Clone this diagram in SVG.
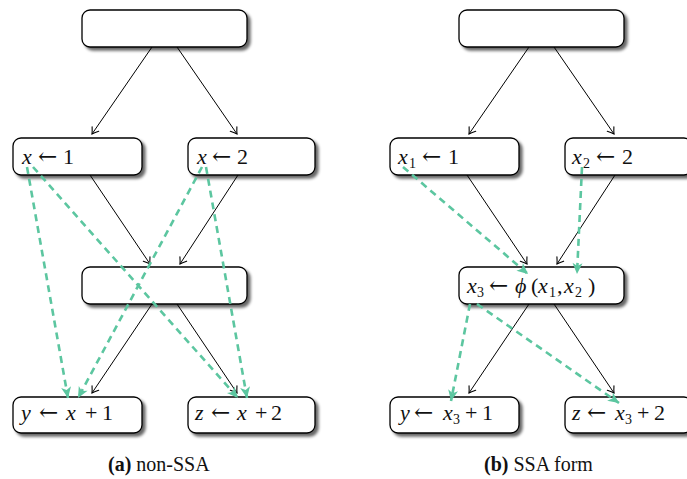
<svg xmlns="http://www.w3.org/2000/svg" width="687" height="479" viewBox="0 0 687 479">
<defs>
<filter id="sh" x="-20%" y="-30%" width="140%" height="170%">
<feGaussianBlur in="SourceAlpha" stdDeviation="1.8"/>
<feOffset dx="2.5" dy="2.5" result="b"/>
<feComponentTransfer><feFuncA type="linear" slope="0.6"/></feComponentTransfer>
<feMerge><feMergeNode/><feMergeNode in="SourceGraphic"/></feMerge>
</filter>
<marker id="ab" markerUnits="userSpaceOnUse" markerWidth="12" markerHeight="12" viewBox="-10 -6 12 12" refX="0" refY="0" orient="auto">
<path d="M-6,-4 Q-2,-1 0,0 Q-2,1 -6,4" fill="none" stroke="#000" stroke-width="1.1" stroke-linecap="round"/>
</marker>
<marker id="ag" markerUnits="userSpaceOnUse" markerWidth="14" markerHeight="14" viewBox="-12 -7 14 14" refX="0" refY="0" orient="auto">
<path d="M0,0 L-11,-5 L-8,0 L-11,5 Z" fill="#5cc6a0"/>
</marker>
</defs>
<style>
.box{fill:#fff;stroke:#000;stroke-width:1.3;filter:url(#sh)}
.c{stroke:#000;stroke-width:1;fill:none;marker-end:url(#ab)}
.g{stroke:#5cc6a0;stroke-width:2.6;fill:none;stroke-dasharray:7 5;marker-end:url(#ag)}
text{font-family:"Liberation Serif","DejaVu Serif",serif;font-size:22px;fill:#111}
.i{font-style:italic}
.ar{font-family:"DejaVu Serif",serif;font-size:23px}
.s{font-size:14px}
.cap{font-size:20px}
.bf{font-weight:bold}
</style>

<g id="a-top"><rect class="box" x="82" y="10" width="165" height="37" rx="8"/></g>
<g id="a-x1"><rect class="box" x="13" y="138" width="129" height="37" rx="8"/>
<text y="164"><tspan class="i" x="22">x</tspan><tspan class="ar" x="38">←</tspan><tspan x="63">1</tspan></text></g>
<g id="a-x2"><rect class="box" x="188" y="138" width="127" height="37" rx="8"/>
<text y="164"><tspan class="i" x="197">x</tspan><tspan class="ar" x="212">←</tspan><tspan x="237">2</tspan></text></g>
<g id="a-mid"><rect class="box" x="82" y="267" width="165" height="37" rx="8"/></g>
<g id="a-y"><rect class="box" x="13" y="397" width="129" height="36" rx="8"/>
<text y="420"><tspan class="i" x="21">y</tspan><tspan class="ar" x="39">←</tspan><tspan class="i" x="66">x</tspan><tspan x="85">+</tspan><tspan x="102">1</tspan></text></g>
<g id="a-z"><rect class="box" x="188" y="397" width="127" height="36" rx="8"/>
<text y="420"><tspan class="i" x="195">z</tspan><tspan class="ar" x="211">←</tspan><tspan class="i" x="237">x</tspan><tspan x="255">+</tspan><tspan x="271">2</tspan></text></g>

<g id="b-top"><rect class="box" x="459" y="10" width="165" height="37" rx="8"/></g>
<g id="b-x1"><rect class="box" x="390" y="138" width="129" height="37" rx="8"/>
<text y="164"><tspan class="i" x="398">x</tspan><tspan class="s" x="409" dy="4">1</tspan><tspan class="ar" x="422" dy="-4">←</tspan><tspan x="448">1</tspan></text></g>
<g id="b-x2"><rect class="box" x="565" y="138" width="127" height="37" rx="8"/>
<text y="164"><tspan class="i" x="572">x</tspan><tspan class="s" x="583" dy="4">2</tspan><tspan class="ar" x="596" dy="-4">←</tspan><tspan x="622">2</tspan></text></g>
<g id="b-mid"><rect class="box" x="459" y="267" width="165" height="37" rx="8"/>
<text y="293"><tspan class="i" x="467">x</tspan><tspan class="s" x="477" dy="4">3</tspan><tspan class="ar" x="489" dy="-4">←</tspan><tspan class="i" x="515">ϕ</tspan><tspan x="531">(</tspan><tspan class="i" x="538">x</tspan><tspan class="s" x="549" dy="4">1</tspan><tspan x="557" dy="-4">,</tspan><tspan class="i" x="564">x</tspan><tspan class="s" x="575" dy="4">2</tspan><tspan x="588" dy="-4">)</tspan></text></g>
<g id="b-y"><rect class="box" x="390" y="397" width="129" height="36" rx="8"/>
<text y="420"><tspan class="i" x="400">y</tspan><tspan class="ar" x="414">←</tspan><tspan class="i" x="443">x</tspan><tspan class="s" x="453" dy="4">3</tspan><tspan x="465" dy="-4">+</tspan><tspan x="482">1</tspan></text></g>
<g id="b-z"><rect class="box" x="565" y="397" width="127" height="36" rx="8"/>
<text y="420"><tspan class="i" x="572">z</tspan><tspan class="ar" x="587">←</tspan><tspan class="i" x="615">x</tspan><tspan class="s" x="625" dy="4">3</tspan><tspan x="637" dy="-4">+</tspan><tspan x="654">2</tspan></text></g>

<g id="connectors">
<line class="c" x1="152" y1="47" x2="92" y2="134"/>
<line class="c" x1="177" y1="47" x2="237" y2="134"/>
<line class="c" x1="90" y1="175" x2="150" y2="264"/>
<line class="c" x1="238" y1="175" x2="180" y2="264"/>
<line class="c" x1="152" y1="304" x2="92" y2="393"/>
<line class="c" x1="177" y1="304" x2="237" y2="393"/>
<line class="c" x1="529" y1="47" x2="469" y2="134"/>
<line class="c" x1="554" y1="47" x2="614" y2="134"/>
<line class="c" x1="467" y1="175" x2="527" y2="264"/>
<line class="c" x1="615" y1="175" x2="557" y2="264"/>
<line class="c" x1="529" y1="304" x2="469" y2="393"/>
<line class="c" x1="554" y1="304" x2="614" y2="393"/>
<line class="g" x1="27" y1="167" x2="68" y2="398"/>
<line class="g" x1="33" y1="167" x2="238" y2="398"/>
<line class="g" x1="202" y1="167" x2="78" y2="398"/>
<line class="g" x1="206" y1="167" x2="247" y2="398"/>
<line class="g" x1="403" y1="167" x2="528" y2="274"/>
<line class="g" x1="582" y1="167" x2="577" y2="274"/>
<line class="g" x1="470" y1="304" x2="451" y2="401"/>
<line class="g" x1="477" y1="304" x2="619" y2="403"/>
</g>

<text class="cap" x="108" y="471"><tspan class="bf">(a)</tspan> non-SSA</text>
<text class="cap" x="484" y="471"><tspan class="bf">(b)</tspan> SSA form</text>
</svg>
